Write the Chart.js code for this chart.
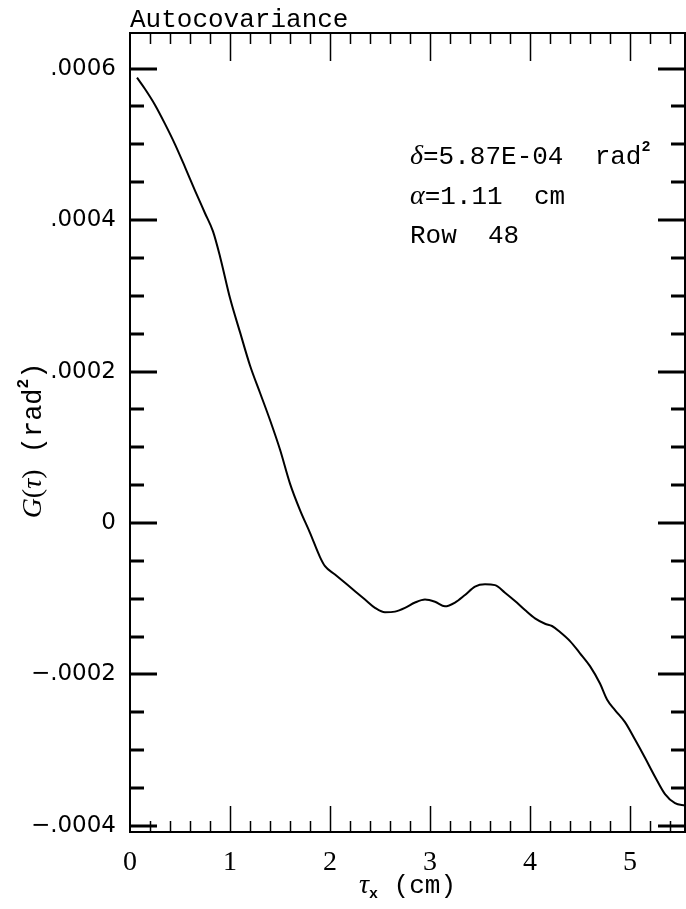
<!DOCTYPE html>
<html>
<head>
<meta charset="utf-8">
<script src="https://cdn.jsdelivr.net/npm/chart.js@4.4.1/dist/chart.umd.min.js"></script>
<style>
  html, body { margin: 0; padding: 0; background: #fff; }
  canvas { display: block; }
</style>
</head>
<body>
<canvas id="acov" width="686" height="909"></canvas>
<script>
// lag in cm, autocovariance in rad^2
const LAG_CM = [0.07, 0.15, 0.25, 0.35, 0.45, 0.55, 0.65, 0.75, 0.83, 0.9,
  1.0, 1.1, 1.2, 1.3, 1.4, 1.5, 1.6, 1.7, 1.8, 1.9, 1.95,
  2.05, 2.15, 2.25, 2.35, 2.45, 2.55, 2.65, 2.75, 2.85, 2.95,
  3.05, 3.15, 3.25, 3.35, 3.45, 3.55, 3.65, 3.75, 3.85, 3.95,
  4.05, 4.15, 4.22, 4.3, 4.4, 4.5, 4.6, 4.7, 4.77, 4.85, 4.95,
  5.05, 5.15, 5.25, 5.35, 5.45, 5.55];
const G_TAU = [5.88e-4, 5.73e-4, 5.52e-4, 5.27e-4, 5.00e-4, 4.70e-4, 4.39e-4, 4.09e-4, 3.85e-4, 3.52e-4,
  2.97e-4, 2.52e-4, 2.08e-4, 1.72e-4, 1.36e-4, 0.97e-4, 0.52e-4, 0.17e-4, -0.13e-4, -0.45e-4, -0.57e-4,
  -0.68e-4, -0.79e-4, -0.90e-4, -1.01e-4, -1.12e-4, -1.18e-4, -1.17e-4, -1.12e-4, -1.05e-4, -1.01e-4,
  -1.04e-4, -1.10e-4, -1.05e-4, -0.95e-4, -0.84e-4, -0.81e-4, -0.82e-4, -0.92e-4, -1.03e-4, -1.15e-4,
  -1.26e-4, -1.33e-4, -1.36e-4, -1.44e-4, -1.56e-4, -1.72e-4, -1.89e-4, -2.12e-4, -2.33e-4, -2.47e-4, -2.63e-4,
  -2.86e-4, -3.10e-4, -3.35e-4, -3.58e-4, -3.70e-4, -3.73e-4];

const X_TICKS = [0, 1, 2, 3, 4, 5];
const Y_TICKS = [0.0006, 0.0004, 0.0002, 0, -0.0002, -0.0004];
const Y_TICK_LABELS = ['.0006', '.0004', '.0002', '0', '\u2212.0002', '\u2212.0004'];

const MONO = '26px "Liberation Mono"';
const SERIF_IT = 'italic 28px "Liberation Serif"';

function drawRuns(ctx, x, y, runs, center) {
  let w = 0;
  runs.forEach(([t, f]) => { ctx.font = f; w += ctx.measureText(t).width; });
  let cx = center ? x - w / 2 : x;
  runs.forEach(([t, f, dy = 0]) => {
    ctx.font = f;
    ctx.fillText(t, cx, y + dy);
    cx += ctx.measureText(t).width;
  });
}

/* frame with inward ticks on all four sides */
const framePlugin = {
  id: 'frame',
  afterDatasetsDraw(chart) {
    const { ctx, chartArea: { left, right, top, bottom }, scales: { x, y } } = chart;
    ctx.save();
    ctx.strokeStyle = '#000';
    ctx.lineCap = 'butt';

    ctx.lineWidth = 3;
    for (let k = -8; k <= 13; k++) {
      const v = k * 0.00005;
      if (v < y.min || v > y.max) continue;
      const py = Math.round(y.getPixelForValue(v));
      const len = k % 4 === 0 ? 27 : 14;
      ctx.beginPath();
      ctx.moveTo(left, py); ctx.lineTo(left + len, py);
      ctx.moveTo(right, py); ctx.lineTo(right - len, py);
      ctx.stroke();
    }

    ctx.lineWidth = 1.5;
    for (let k = 1; k <= 27; k++) {
      const v = k * 0.2;
      if (v > x.max) continue;
      const px = Math.round(x.getPixelForValue(v)) + 0.5;
      const major = k % 5 === 0;
      ctx.beginPath();
      ctx.moveTo(px, bottom); ctx.lineTo(px, bottom - (major ? 26 : 11));
      ctx.moveTo(px, top); ctx.lineTo(px, top + (major ? 28 : 11));
      ctx.stroke();
    }

    ctx.lineWidth = 2;
    ctx.strokeRect(left, top, right - left, bottom - top);
    ctx.restore();
  },
  afterDraw(chart) {
    const { ctx, chartArea: { left, right, top, bottom } } = chart;
    ctx.save();
    ctx.fillStyle = '#000';
    ctx.textBaseline = 'alphabetic';

    // title
    ctx.font = MONO;
    ctx.fillText('Autocovariance', left, 27);

    // annotation
    drawRuns(ctx, 410, 164, [['\u03b4', SERIF_IT], ['=5.87E-04  rad', MONO], ['2', 'bold 15px "Liberation Mono"', -13]]);
    drawRuns(ctx, 410, 204, [['\u03b1', SERIF_IT], ['=1.11  cm', MONO]]);
    drawRuns(ctx, 410, 243, [['Row  48', MONO]]);

    // x axis title
    drawRuns(ctx, (left + right) / 2, 893, [
      ['\u03c4', SERIF_IT], ['x', 'bold 15px "Liberation Mono"', 5], [' (cm)', MONO]
    ], true);

    // y axis title
    ctx.translate(41, (top + bottom) / 2 + 8);
    ctx.rotate(-Math.PI / 2);
    drawRuns(ctx, 0, 0, [
      ['G', SERIF_IT], ['(', '28px "Liberation Serif"'], ['\u03c4', SERIF_IT], [')', '28px "Liberation Serif"'],
      [' (rad', '27px "Liberation Mono"'], ['2', 'bold 16px "Liberation Mono"', -13], [')', '27px "Liberation Mono"']
    ], true);
    ctx.restore();
  }
};

new Chart(document.getElementById('acov'), {
  type: 'line',
  data: {
    datasets: [{
      data: LAG_CM.map((v, i) => ({ x: v, y: G_TAU[i] })),
      borderColor: '#000',
      borderWidth: 2,
      pointRadius: 0,
      cubicInterpolationMode: 'monotone',
      fill: false,
    }],
  },
  options: {
    responsive: false,
    animation: false,
    layout: { padding: { top: 33, right: 1, left: 0, bottom: 0 } },
    plugins: { legend: { display: false }, tooltip: { enabled: false }, title: { display: false } },
    scales: {
      x: {
        type: 'linear', min: 0, max: 5.55,
        afterBuildTicks: s => { s.ticks = X_TICKS.map(v => ({ value: v })); },
        afterFit: s => { s.height = 77; },
        grid: { display: false, drawTicks: false },
        border: { display: false },
        ticks: { padding: 14, color: '#000', maxRotation: 0, font: { family: 'Liberation Serif', size: 28 } },
      },
      y: {
        type: 'linear', min: -0.000408, max: 0.000647,
        afterBuildTicks: s => { s.ticks = Y_TICKS.map(v => ({ value: v })); },
        afterFit: s => { s.width = 130; },
        grid: { display: false, drawTicks: false },
        border: { display: false },
        ticks: {
          padding: 14, color: '#000',
          font: { family: 'DejaVu Sans', size: 23 },
          callback: v => Y_TICK_LABELS[Y_TICKS.indexOf(v)],
        },
      },
    },
  },
  plugins: [framePlugin],
});
</script>
</body>
</html>
